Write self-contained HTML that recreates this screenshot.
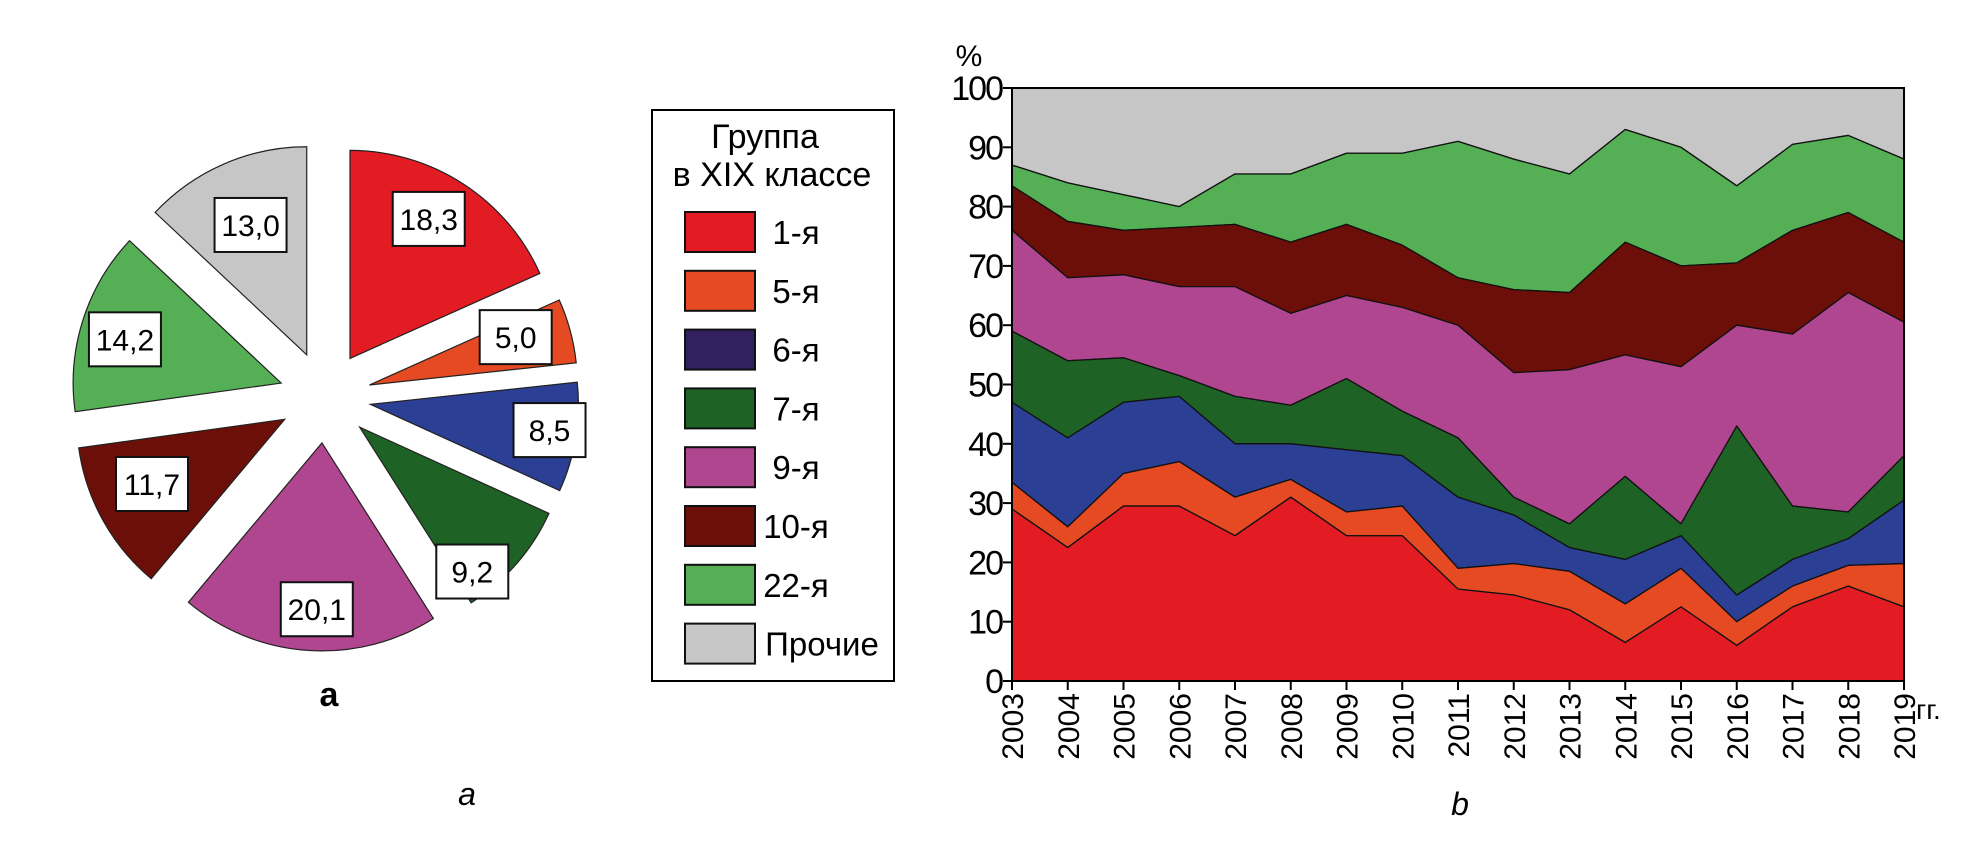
<!DOCTYPE html>
<html><head><meta charset="utf-8">
<style>
html,body{margin:0;padding:0;background:#fff;}
svg{display:block;font-family:"Liberation Sans","DejaVu Sans",sans-serif;}
</style></head>
<body>
<svg id="root" width="1963" height="849" viewBox="0 0 1963 849" xmlns="http://www.w3.org/2000/svg">
  <g id="pie"></g>
  <text x="329" y="706" font-size="34" font-weight="bold" text-anchor="middle">а</text>
  <text x="467" y="805" font-size="32" font-style="italic" text-anchor="middle">a</text>
  <text x="1460" y="815" font-size="32" font-style="italic" text-anchor="middle">b</text>
  <g id="legend">
    <rect x="652" y="110" width="242" height="571" fill="#fff" stroke="#000" stroke-width="2"/>
    <text x="765" y="148" font-size="34" text-anchor="middle">Группа</text>
    <text x="772" y="186" font-size="34" text-anchor="middle">в XIX классе</text>
  </g>
  <g id="area"></g>
</svg>
<script>
const NS="http://www.w3.org/2000/svg";
// ---- data ----
const groupNames=["1-я","5-я","6-я","7-я","9-я","10-я","22-я","Прочие"];
const chartColors=["#e21c22","#e54a22","#2b3f94","#1e6325","#b0468f","#6b0f08","#55b055","#c6c6c6"];
const legendColors=["#e21c22","#e54a22","#33205f","#1e6325","#b0468f","#6b0f08","#55b055","#c6c6c6"];
const pieValues=[18.3,5.0,8.5,9.2,20.1,11.7,14.2,13.0];
const pieLabels=["18,3","5,0","8,5","9,2","20,1","11,7","14,2","13,0"];
const years=[2003,2004,2005,2006,2007,2008,2009,2010,2011,2012,2013,2014,2015,2016,2017,2018,2019];
// cumulative tops (%) of each stacked layer
const top1=[29,22.5,29.5,29.5,24.5,31,24.5,24.5,15.5,14.5,12,6.5,12.5,6,12.5,16,12.5];
const top5=[33.5,26,35,37,31,34,28.5,29.5,19,19.8,18.5,13,19,10,16,19.5,19.8];
const top6=[47,41,47,48,40,40,39,38,31,28,22.5,20.5,24.5,14.5,20.5,24,30.5];
const top7=[59,54,54.5,51.5,48,46.5,51,45.5,41,31,26.5,34.5,26.5,43,29.5,28.5,38];
const top9=[76,68,68.5,66.5,66.5,62,65,63,60,52,52.5,55,53,60,58.5,65.5,60.5];
const top10=[83.5,77.5,76,76.5,77,74,77,73.5,68,66,65.5,74,70,70.5,76,79,74];
const top22=[87,84,82,80,85.5,85.5,89,89,91,88,85.5,93,90,83.5,90.5,92,88];
const topOther=years.map(()=>100);
const yTicks=[0,10,20,30,40,50,60,70,80,90,100];

function el(tag,attrs,parent){const e=document.createElementNS(NS,tag);for(const k in attrs)e.setAttribute(k,attrs[k]);parent.appendChild(e);return e;}

// ---- pie ----
const pie=document.getElementById('pie');
const cx=325,cy=397,R=208,explode=46;
const labelR=[0.77,0.74,0.87,0.88,0.8,0.71,0.78,0.68];
const labelDA=[-3.5,-3,-1,11,-2,3,-2,0];
const total=pieValues.reduce((a,b)=>a+b,0);
let acc=0;
pieValues.forEach((v,i)=>{
  const a0=acc/total*2*Math.PI; acc+=v; const a1=acc/total*2*Math.PI; const am=(a0+a1)/2;
  const ax=cx+explode*Math.sin(am), ay=cy-explode*Math.cos(am);
  const p0=[ax+R*Math.sin(a0),ay-R*Math.cos(a0)], p1=[ax+R*Math.sin(a1),ay-R*Math.cos(a1)];
  const large=(a1-a0)>Math.PI?1:0;
  const s=el('path',{d:`M${ax},${ay} L${p0[0]},${p0[1]} A${R},${R} 0 ${large} 1 ${p1[0]},${p1[1]} Z`,fill:chartColors[i],stroke:"#222","stroke-width":1.2},pie);
  
  
  const la=am+labelDA[i]*Math.PI/180;
  const lx=ax+R*labelR[i]*Math.sin(la), ly=ay-R*labelR[i]*Math.cos(la);
  const b=el('rect',{x:lx-36,y:ly-27,width:72,height:54,fill:"#fff",stroke:"#111","stroke-width":2},pie);
  
  
  const t=el('text',{x:lx,y:ly+11,"font-size":30,"text-anchor":"middle"},pie);
  t.textContent=pieLabels[i];
  
  
});

// ---- legend ----
const leg=document.getElementById('legend');
groupNames.forEach((n,i)=>{
  const y=232+i*58.8;
  const r=el('rect',{x:685,y:y-20,width:70,height:40,fill:legendColors[i],stroke:"#111","stroke-width":2},leg);
  
  
  const t=el('text',{x:n==="Прочие"?822:796,y:y+12,"font-size":33,"text-anchor":"middle"},leg);
  t.textContent=n;
  
  
});

// ---- area chart ----
const g=document.getElementById('area');
const X0=1012,X1=1904,Y0=681,Y100=88;
const xs=i=>X0+(X1-X0)*i/(years.length-1);
const ys=v=>Y0-(Y0-Y100)*v/100;
const layers=[top1,top5,top6,top7,top9,top10,top22,topOther];
for(let k=layers.length-1;k>=0;k--){
  const topArr=layers[k]; const botArr=k===0?years.map(()=>0):layers[k-1];
  let d="M"+topArr.map((v,i)=>xs(i)+","+ys(v)).join(" L");
  for(let i=years.length-1;i>=0;i--) d+=" L"+xs(i)+","+ys(botArr[i]);
  d+=" Z";
  const p=el('path',{d:d,fill:chartColors[k],stroke:"#111","stroke-width":1.3,"stroke-linejoin":"round"},g);
  
  
}
const frame=el('rect',{x:X0,y:Y100,width:X1-X0,height:Y0-Y100,fill:"none",stroke:"#000","stroke-width":2},g);


yTicks.forEach(v=>{
  const y=ys(v);
  const l=el('line',{x1:X0-9,x2:X0,y1:y,y2:y,stroke:"#000","stroke-width":2},g);
  
  
  const t=el('text',{x:X0-10,y:y+12,"font-size":34,"text-anchor":"end","letter-spacing":"-2"},g);
  t.textContent=v;
  
  
});
years.forEach((yr,i)=>{
  const x=xs(i);
  const l=el('line',{x1:x,x2:x,y1:Y0,y2:Y0+9,stroke:"#000","stroke-width":2},g);
  
  
  const t=el('text',{x:0,y:0,"font-size":30,"text-anchor":"end",transform:`translate(${x+11},${Y0+12}) rotate(-90)`},g);
  t.textContent=yr;
  
  
});
const pc=el('text',{x:969,y:66,"font-size":30,"text-anchor":"middle"},g);
pc.textContent="%";


const gg=el('text',{x:1916,y:719,"font-size":28},g);
gg.textContent="гг.";


</script>
</body></html>
